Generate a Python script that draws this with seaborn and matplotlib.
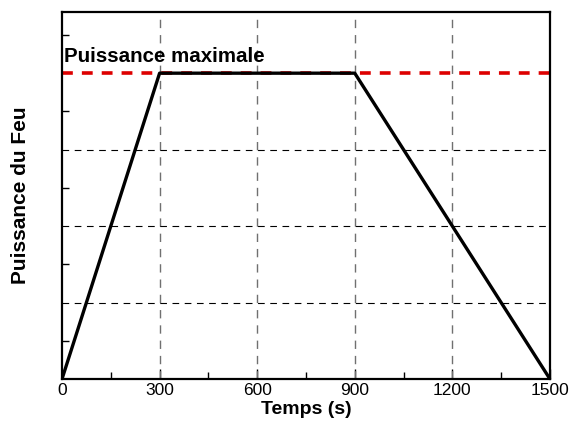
import matplotlib
matplotlib.use('Agg')
import matplotlib.pyplot as plt
import pandas as pd
import seaborn as sns
from matplotlib.ticker import MultipleLocator

# données du profil de puissance
temps = [0, 300, 900, 1500]
puissance = [0, 4, 4, 0]
p_max = 4
x_ticks = [0, 300, 600, 900, 1200, 1500]

df = pd.DataFrame({'Temps': temps, 'Puissance': puissance})

sns.set_style('ticks')
plt.rcParams['font.family'] = ['Liberation Sans', 'DejaVu Sans']
plt.rcParams['text.color'] = 'black'
plt.rcParams['axes.labelcolor'] = 'black'
plt.rcParams['xtick.color'] = 'black'
plt.rcParams['ytick.color'] = 'black'

fig = plt.figure(figsize=(5.71, 4.23), dpi=100)
ax = fig.add_axes([0.1086, 0.104, 0.8545, 0.8676])

# grille
for x in x_ticks[1:-1]:
    ax.axvline(x, color='#707070', lw=1.0, ls=(0, (6, 5)), zorder=1)
for y in [1, 2, 3]:
    ax.axhline(y, color='black', lw=0.8, ls=(0, (6, 5)), zorder=1)

# puissance maximale
ax.axhline(p_max, color='#dd0000', lw=2.6, ls=(0, (3, 2.5)), zorder=2)

sns.lineplot(data=df, x='Temps', y='Puissance', color='black', lw=2.4, ax=ax, zorder=3)

ax.text(5, p_max + 0.1, 'Puissance maximale', fontsize=14.8, fontweight='bold', va='bottom', ha='left')

ax.set_xlim(0, 1500)
ax.set_ylim(0, 4.8)
ax.set_xticks(x_ticks)
ax.xaxis.set_minor_locator(MultipleLocator(150))
ax.yaxis.set_major_locator(MultipleLocator(1))
ax.yaxis.set_minor_locator(MultipleLocator(0.5))
ax.set_yticklabels([])
ax.tick_params(which='both', direction='in', top=False, right=False, labelsize=12.5, pad=3)
ax.tick_params(which='major', length=7, width=1)
ax.tick_params(which='minor', length=5, width=1)
ax.tick_params(axis='y', which='major', length=0)

for s in ax.spines.values():
    s.set_linewidth(1.6)
    s.set_color('black')

ax.set_xlabel('Temps (s)', fontsize=14, fontweight='bold', labelpad=2)
ax.set_ylabel('Puissance du Feu', fontsize=15, fontweight='bold', labelpad=20)

fig.savefig('out.png', dpi=100)
